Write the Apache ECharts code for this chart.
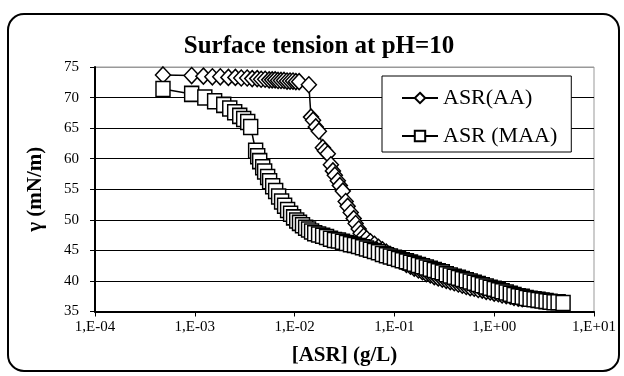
<!DOCTYPE html>
<html><head><meta charset="utf-8">
<script src="https://cdn.jsdelivr.net/npm/echarts@6/dist/echarts.min.js"></script>
<style>html,body{margin:0;padding:0;background:#fff}#c{width:624px;height:376px}</style>
</head><body><div id="c"></div>
<script>
const titleText = 'Surface tension at pH=10';
const xAxisName = '[ASR] (g/L)';
const yAxisName = 'γ (mN/m)';
const seriesNames = ['ASR(AA)', 'ASR (MAA)'];

const aaConc = [0.00048, 0.00093, 0.00122, 0.00150, 0.00180, 0.00217, 0.00255, 0.00292, 0.00335, 0.00376,
  0.00422, 0.00462, 0.00507, 0.00556, 0.00596, 0.00638, 0.00683, 0.00731, 0.00784, 0.00840,
  0.00900, 0.00964, 0.0103, 0.0111, 0.0139, 0.0146, 0.0153, 0.0163, 0.0175, 0.0192,
  0.0201, 0.0215, 0.0231, 0.0242, 0.0253, 0.0271, 0.0284, 0.0304, 0.0325, 0.0340,
  0.0365, 0.0391, 0.0409, 0.0439, 0.0459, 0.0492, 0.0527,
  0.0575, 0.0631, 0.0692, 0.0759, 0.0832, 0.0912, 0.100, 0.110, 0.120, 0.132,
  0.145, 0.158, 0.174, 0.191, 0.209, 0.229, 0.251, 0.275, 0.302, 0.331,
  0.363, 0.398, 0.437, 0.479, 0.525, 0.575, 0.631, 0.692, 0.759, 0.832,
  0.912, 1.00, 1.10, 1.20, 1.32, 1.45, 1.58, 1.74, 1.91];
const aaGamma = [73.7, 73.6, 73.5, 73.4, 73.4, 73.3, 73.3, 73.2, 73.2, 73.1,
  73.1, 73.0, 73.0, 72.9, 72.9, 72.9, 72.8, 72.8, 72.8, 72.7,
  72.7, 72.7, 72.6, 72.6, 72.1, 66.8, 66.3, 65.2, 64.5, 61.8,
  61.3, 60.8, 59.0, 58.0, 57.3, 56.4, 55.6, 54.7, 53.0, 52.2,
  51.2, 50.2, 49.4, 48.5, 47.8, 47.3, 46.9,
  46.4, 46.0, 45.5, 45.1, 44.7, 44.3, 43.9, 43.5, 43.1, 42.7,
  42.4, 42.1, 41.8, 41.5, 41.2, 41.0, 40.7, 40.5, 40.3, 40.1,
  39.9, 39.7, 39.5, 39.3, 39.1, 38.9, 38.8, 38.6, 38.5, 38.3,
  38.2, 38.0, 37.9, 37.7, 37.6, 37.5, 37.3, 37.2, 37.1];

const maaConc = [0.00048, 0.00093, 0.00126, 0.00158, 0.00195, 0.00224, 0.00251, 0.00282, 0.00309, 0.00339,
  0.00363, 0.00407, 0.00427, 0.00447, 0.00479, 0.00501, 0.00537, 0.00562, 0.00603, 0.00646,
  0.00692, 0.00741, 0.00794, 0.00851, 0.00912, 0.00977, 0.0105, 0.0112, 0.0120, 0.0129,
  0.0138, 0.0148, 0.0159,
  0.0174, 0.0191, 0.0209, 0.0229, 0.0251, 0.0275, 0.0302, 0.0331, 0.0363, 0.0398,
  0.0437, 0.0479, 0.0525, 0.0575, 0.0631, 0.0692, 0.0759, 0.0832, 0.0912, 0.100,
  0.110, 0.120, 0.132, 0.145, 0.158, 0.174, 0.191, 0.209, 0.229, 0.251,
  0.275, 0.302, 0.331, 0.363, 0.398, 0.437, 0.479, 0.525, 0.575, 0.631,
  0.692, 0.759, 0.832, 0.912, 1.00, 1.10, 1.20, 1.32, 1.45, 1.58,
  1.74, 1.91, 2.09, 2.29, 2.51, 2.75, 3.02, 3.31, 3.63, 3.98, 4.37, 4.90];
const maaGamma = [71.4, 70.6, 70.0, 69.4, 68.8, 68.2, 67.6, 67.0, 66.5, 66.0,
  65.2, 61.3, 60.4, 59.6, 58.6, 57.9, 57.0, 56.3, 55.5, 54.7,
  53.8, 53.0, 52.3, 51.6, 51.0, 50.4, 49.9, 49.5, 49.1, 48.7,
  48.4, 48.1, 47.8,
  47.6, 47.4, 47.2, 46.9, 46.7, 46.6, 46.4, 46.2, 46.0, 45.9,
  45.7, 45.5, 45.3, 45.1, 44.9, 44.7, 44.4, 44.2, 44.0, 43.8,
  43.6, 43.4, 43.2, 43.0, 42.8, 42.6, 42.4, 42.2, 42.0, 41.8,
  41.6, 41.4, 41.1, 40.9, 40.7, 40.5, 40.3, 40.1, 39.9, 39.7,
  39.5, 39.3, 39.1, 38.9, 38.7, 38.5, 38.3, 38.1, 37.9, 37.7,
  37.5, 37.4, 37.2, 37.1, 37.0, 36.9, 36.8, 36.7, 36.6, 36.5, 36.5, 36.4];

const yMin = 35, yMax = 75, yStep = 5;
const xMin = 1e-4, xMax = 10;

const FONT = '"Liberation Serif", "Times New Roman", serif';
const chart = echarts.init(document.getElementById('c'), null, {renderer: 'canvas'});

function expLabel(v) {
  const e = Math.round(Math.log10(v));
  return '1,E' + (e < 0 ? '-' : '+') + String(Math.abs(e)).padStart(2, '0');
}
const splitColors = [];
for (let i = 0; i <= (yMax - yMin) / yStep; i++) splitColors.push(i === (yMax - yMin) / yStep ? '#999' : '#000');

chart.setOption({
  animation: false,
  backgroundColor: '#fff',
  title: {
    text: titleText, left: 314, top: 29, textAlign: 'center',
    textStyle: {fontFamily: FONT, fontSize: 25, fontWeight: 'bold', color: '#000'}
  },
  graphic: [{
    type: 'rect', shape: {x: 8, y: 14, width: 611, height: 357, r: 16},
    style: {fill: 'none', stroke: '#000', lineWidth: 2}, z: 100, silent: true
  }],
  legend: {
    left: 382, top: 76, orient: 'vertical',
    data: seriesNames,
    backgroundColor: '#fff', borderColor: '#000', borderWidth: 1,
    padding: [10, 14, 4, 19], itemGap: 14, itemWidth: 36, itemHeight: 13,
    textStyle: {fontFamily: FONT, fontSize: 22, color: '#000', lineHeight: 24}
  },
  grid: {left: 95, right: 30, top: 67, bottom: 64.5, show: true, borderColor: '#999', borderWidth: 1, backgroundColor: 'transparent'},
  xAxis: {
    type: 'log', logBase: 10, min: xMin, max: xMax, interval: 1,
    name: xAxisName, nameLocation: 'middle', nameGap: 34,
    nameTextStyle: {fontFamily: FONT, fontSize: 21, fontWeight: 'bold', color: '#000'},
    axisLine: {lineStyle: {color: '#000', width: 2}},
    axisTick: {show: true, length: 5, lineStyle: {color: '#000', width: 1}},
    minorTick: {show: false}, splitLine: {show: false},
    axisLabel: {fontFamily: FONT, fontSize: 15, color: '#000', margin: 8, formatter: expLabel}
  },
  yAxis: {
    type: 'value', min: yMin, max: yMax, interval: yStep,
    name: yAxisName, nameLocation: 'middle', nameGap: 49, nameRotate: 90,
    nameTextStyle: {fontFamily: FONT, fontSize: 21, fontWeight: 'bold', color: '#000'},
    axisLine: {show: true, lineStyle: {color: '#000', width: 2}},
    axisTick: {show: true, length: 5, lineStyle: {color: '#000', width: 1}},
    splitLine: {show: true, lineStyle: {color: splitColors, width: 1}},
    axisLabel: {fontFamily: FONT, fontSize: 15, color: '#000', margin: 16}
  },
  series: [
    {
      name: seriesNames[0], type: 'line',
      data: aaConc.map((c, i) => [c, aaGamma[i]]),
      symbol: 'diamond', symbolSize: [15, 16], showAllSymbol: true,
      lineStyle: {color: '#000', width: 1.5},
      itemStyle: {color: '#fff', borderColor: '#000', borderWidth: 1.5},
      z: 2
    },
    {
      name: seriesNames[1], type: 'line',
      data: maaConc.map((c, i) => [c, maaGamma[i]]),
      symbol: 'rect', symbolSize: [14, 15], showAllSymbol: true,
      lineStyle: {color: '#000', width: 1.5},
      itemStyle: {color: '#fff', borderColor: '#000', borderWidth: 1.5},
      z: 3
    }
  ]
});
</script></body></html>
